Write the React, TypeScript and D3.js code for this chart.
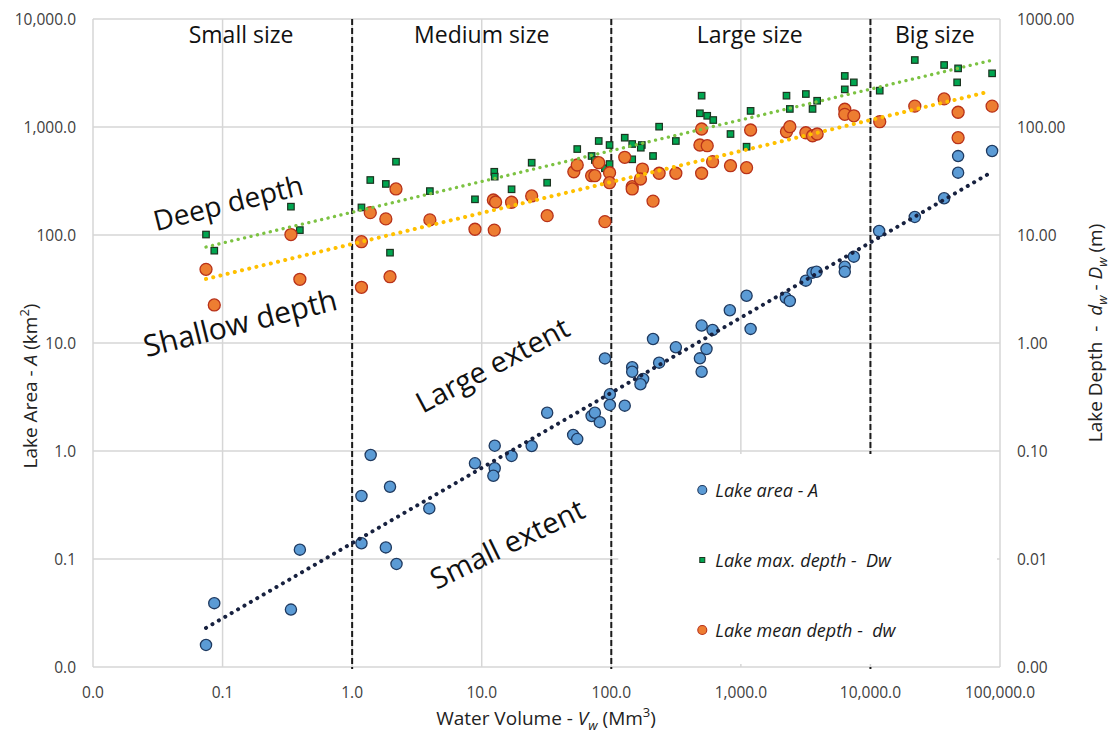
import React, { useRef, useEffect } from "react";
import * as d3 from "d3";

// axis ticks (x = water volume, left = lake area, right = lake depth)
const xTicks = [0.01, 0.1, 1, 10, 100, 1000, 10000, 100000];
const xTickLabels = ["0.0", "0.1", "1.0", "10.0", "100.0", "1,000.0", "10,000.0", "100,000.0"];
const areaTicks = [0.01, 0.1, 1, 10, 100, 1000, 10000];
const areaTickLabels = ["0.0", "0.1", "1.0", "10.0", "100.0", "1,000.0", "10,000.0"];
const depthTicks = [0.001, 0.01, 0.1, 1, 10, 100, 1000];
const depthTickLabels = ["0.00", "0.01", "0.10", "1.00", "10.00", "100.00", "1000.00"];

// size classes
const sizeLabels = ["Small size", "Medium size", "Large size", "Big size"];
const sizeLabelX = [0.139, 10.0, 1170, 31400];
const sizeBounds = [1, 100, 10000];

// [V, A]  lake area (km2)
const lakeArea = [
  [0.0745, 0.016], [0.0863, 0.039], [0.337, 0.034], [0.395, 0.122], [1.18, 0.383], [1.18, 0.14],
  [1.96, 0.467], [3.94, 0.294], [1.82, 0.128], [2.2, 0.09], [1.39, 0.918], [8.87, 0.769],
  [12.6, 1.12], [12.6, 0.692], [12.3, 0.59], [17.0, 0.9], [24.3, 1.11], [32, 2.26],
  [50.8, 1.41], [54.6, 1.29], [70.5, 2.11], [74.7, 2.26], [81.6, 1.85], [89.3, 7.2],
  [97.5, 3.35], [97.5, 2.67], [127, 2.63], [145, 5.96], [145, 5.42], [176, 4.64],
  [168, 4.15], [210, 10.9], [234, 6.58], [315, 9.12], [498, 14.5], [483, 7.21],
  [498, 5.42], [543, 8.8], [605, 13.2], [822, 20.1], [1107, 27.4], [1189, 13.5],
  [2223, 26.2], [2388, 24.5], [3174, 37.8], [3575, 44.8], [3838, 45.7], [6339, 50.8],
  [6339, 45.7], [7447, 63], [11670, 109], [22000, 147], [37050, 219], [47500, 378],
  [47500, 538], [86900, 600],
];

// [V, Dw]  lake max depth (m)
const lakeMaxDepth = [
  [0.0745, 10.1], [0.0863, 7.16], [0.337, 18.3], [0.395, 11.1], [1.18, 18.0], [1.38, 32.3],
  [1.96, 6.86], [2.18, 47.7], [1.82, 29.7], [3.98, 25.5], [8.87, 21.4], [12.5, 38.5],
  [12.6, 34.7], [17.0, 26.5], [24.3, 46.7], [32, 30.5], [54.6, 62.5], [70.5, 53.9],
  [74.7, 49.5], [80, 74.2], [89.3, 41.5], [97, 68.1], [97, 45.4], [127, 79.6],
  [145, 69.6], [145, 50.2], [172, 68.1], [169, 64.3], [210, 53.9], [234, 100.7],
  [315, 74.2], [498, 195], [483, 134], [550, 127], [612, 116], [832, 86.1],
  [1189, 141], [1107, 65.7], [2250, 195], [2388, 147], [3174, 202], [3575, 147],
  [3880, 175], [6339, 297], [6339, 223], [7447, 259], [11800, 217], [22000, 417],
  [37050, 375], [47500, 349], [46700, 259], [86900, 314],
];

// [V, dw]  lake mean depth (m)
const lakeMeanDepth = [
  [0.0745, 4.81], [0.0863, 2.25], [0.337, 10.1], [0.395, 3.89], [1.18, 8.67], [1.18, 3.28],
  [1.96, 4.11], [2.18, 26.7], [1.38, 16.1], [1.82, 14.1], [3.98, 13.8], [8.87, 11.3],
  [12.5, 11.1], [12.3, 21.1], [12.8, 20.2], [17.0, 20.1], [24.3, 23.0], [32, 15.1],
  [51.4, 38.5], [54.6, 44.5], [70.5, 35.4], [74.7, 35.4], [80, 46.7], [89.3, 13.3],
  [97, 37.7], [97, 30.5], [127, 52.4], [145, 28.0], [145, 26.7], [174, 40.8],
  [168, 33.0], [210, 20.6], [234, 37.3], [315, 37.3], [498, 95.8], [483, 68.1],
  [550, 67.1], [498, 37.3], [605, 47.7], [832, 43.8], [1107, 42.0], [1189, 93.8],
  [2250, 90.4], [2388, 100.7], [3174, 88.5], [3575, 83.0], [3880, 86.1], [6339, 146],
  [6339, 131], [7447, 127], [11800, 112], [22000, 156], [37050, 182], [47500, 137],
  [47500, 79.6], [86900, 156],
];

// power trend lines, end points
const areaTrend = [[0.0745, 0.023], [86500, 383]];
const maxTrend = [[0.0745, 7.74], [88000, 417]];
const meanTrend = [[0.0745, 3.92], [80500, 211]];

// rotated notes, [V, A] on the left axis
const notes = ["Deep depth", "Shallow depth", "Large extent", "Small extent"];
const notePos = [[0.110, 202], [0.136, 15.6], [12.0, 6.4], [15.6, 0.141]];
const noteAngle = [-14, -14, -28, -26];
const noteSize = [28, 30, 29, 29];

const legendLabels = ["Lake area - A", "Lake max. depth -  Dw", "Lake mean depth -  dw"];

const FONT = "'Open Sans', sans-serif";

const App = () => {
  const plot = useRef(null);
  const width = 1110;
  const height = 735;
  const left = 93, right = 1000, top = 19, bottom = 667;

  useEffect(() => {
    const svg = d3.select(plot.current);
    svg.selectAll("*").remove();

    const x = d3.scaleLog().domain([0.01, 100000]).range([left, right]);
    const yA = d3.scaleLog().domain([0.01, 10000]).range([bottom, top]);
    const yD = d3.scaleLog().domain([0.001, 1000]).range([bottom, top]);

    // grid
    const grid = svg.append("g").attr("stroke", "#d6d6d6").attr("stroke-width", 1.5);
    grid.selectAll(".vg").data(xTicks).join("line")
      .attr("x1", d => x(d)).attr("x2", d => x(d))
      .attr("y1", top).attr("y2", bottom);
    grid.selectAll(".hg").data(areaTicks).join("line")
      .attr("x1", left).attr("x2", right)
      .attr("y1", d => yA(d)).attr("y2", d => yA(d));

    // size class boundaries
    svg.append("g").selectAll("line").data(sizeBounds).join("line")
      .attr("x1", d => x(d)).attr("x2", d => x(d))
      .attr("y1", top).attr("y2", bottom + 2)
      .attr("stroke", "#1a1a1a").attr("stroke-width", 2)
      .attr("stroke-dasharray", "6 3");

    // legend box covers the lower right corner
    const lgX = x(100) + 7, lgY = yA(1) + 3;
    svg.append("rect")
      .attr("x", lgX).attr("y", lgY)
      .attr("width", right - 3 - lgX).attr("height", bottom - 3 - lgY)
      .attr("fill", "white");

    // size labels
    svg.append("g").selectAll("text").data(sizeLabels).join("text")
      .attr("x", (d, i) => x(sizeLabelX[i]))
      .attr("y", 43)
      .attr("text-anchor", "middle")
      .attr("font-family", FONT).attr("font-size", 23)
      .attr("fill", "#111")
      .text(d => d);

    // rotated notes
    svg.append("g").selectAll("text").data(notes).join("text")
      .attr("transform", (d, i) =>
        `translate(${x(notePos[i][0])},${yA(notePos[i][1])}) rotate(${noteAngle[i]})`)
      .attr("text-anchor", "middle")
      .attr("dominant-baseline", "central")
      .attr("font-family", FONT).attr("font-size", (d, i) => noteSize[i])
      .attr("fill", "#111")
      .text(d => d);

    // points
    svg.append("g").selectAll("circle").data(lakeArea).join("circle")
      .attr("cx", d => x(d[0])).attr("cy", d => yA(d[1])).attr("r", 5.6)
      .attr("fill", "#5b9bd5").attr("stroke", "#1f3a60").attr("stroke-width", 1.3);

    const sq = 6.5;
    svg.append("g").selectAll("rect").data(lakeMaxDepth).join("rect")
      .attr("x", d => x(d[0]) - sq / 2).attr("y", d => yD(d[1]) - sq / 2)
      .attr("width", sq).attr("height", sq)
      .attr("fill", "#00a650").attr("stroke", "#1c3420").attr("stroke-width", 1.2);

    svg.append("g").selectAll("circle").data(lakeMeanDepth).join("circle")
      .attr("cx", d => x(d[0])).attr("cy", d => yD(d[1])).attr("r", 6)
      .attr("fill", "#ed7d31").attr("stroke", "#b8321a").attr("stroke-width", 1.3);

    // trend lines
    const lineA = d3.line().x(d => x(d[0])).y(d => yA(d[1]));
    const lineD = d3.line().x(d => x(d[0])).y(d => yD(d[1]));
    svg.append("path").attr("d", lineA(areaTrend))
      .attr("fill", "none").attr("stroke", "#17213f").attr("stroke-width", 4)
      .attr("stroke-linecap", "round").attr("stroke-dasharray", "0.1 7.3");
    svg.append("path").attr("d", lineD(meanTrend))
      .attr("fill", "none").attr("stroke", "#ffc000").attr("stroke-width", 4)
      .attr("stroke-linecap", "round").attr("stroke-dasharray", "0.1 7.3");
    svg.append("path").attr("d", lineD(maxTrend))
      .attr("fill", "none").attr("stroke", "#7cc242").attr("stroke-width", 3.3)
      .attr("stroke-linecap", "round").attr("stroke-dasharray", "0.1 6.5");

    // legend
    const lg = svg.append("g");
    legendLabels.forEach((t, i) => {
      const cy = lgY + 36 + i * 70;
      const cx = lgX + 84;
      if (i === 1) {
        lg.append("rect").attr("x", cx - 2.5).attr("y", cy - 2.5).attr("width", 5).attr("height", 5)
          .attr("fill", "#00a650").attr("stroke", "#1c3420").attr("stroke-width", 1);
      } else {
        lg.append("circle").attr("cx", cx).attr("cy", cy).attr("r", 4.5)
          .attr("fill", i === 0 ? "#5b9bd5" : "#ed7d31")
          .attr("stroke", i === 0 ? "#1f3a60" : "#b8321a").attr("stroke-width", 1.1);
      }
      lg.append("text").attr("x", cx + 13).attr("y", cy)
        .attr("dominant-baseline", "central")
        .attr("font-family", FONT).attr("font-style", "italic").attr("font-size", 18)
        .attr("fill", "#1a1a1a")
        .attr("xml:space", "preserve")
        .text(t);
    });

    // tick labels
    const tickStyle = (s) => s.attr("font-family", FONT).attr("font-size", 15.5).attr("fill", "#404040");
    svg.append("g").selectAll("text").data(xTicks).join("text")
      .attr("x", d => x(d)).attr("y", 692)
      .attr("text-anchor", "middle").attr("dominant-baseline", "central")
      .text((d, i) => xTickLabels[i]).call(tickStyle);
    svg.append("g").selectAll("text").data(areaTicks).join("text")
      .attr("x", 76).attr("y", d => yA(d))
      .attr("text-anchor", "end").attr("dominant-baseline", "central")
      .text((d, i) => areaTickLabels[i]).call(tickStyle);
    svg.append("g").selectAll("text").data(depthTicks).join("text")
      .attr("x", 1017).attr("y", d => yD(d))
      .attr("text-anchor", "start").attr("dominant-baseline", "central")
      .text((d, i) => depthTickLabels[i]).call(tickStyle);

    // axis titles
    const title = (g, parts) => {
      parts.forEach(p => {
        const ts = g.append("tspan").text(p.t);
        if (p.i) ts.attr("font-style", "italic");
        if (p.sup) ts.attr("font-size", 13).attr("dy", -8);
        if (p.sub) ts.attr("font-size", 13).attr("dy", 5);
        if (p.back) ts.attr("dy", p.back);
      });
    };
    const xt = svg.append("text")
      .attr("x", 546).attr("y", 725).attr("text-anchor", "middle")
      .attr("font-family", FONT).attr("font-size", 19).attr("fill", "#222")
      .attr("xml:space", "preserve");
    title(xt, [{ t: "Water Volume - " }, { t: "V", i: true }, { t: "w", i: true, sub: true },
      { t: " (Mm", back: -5 }, { t: "3", sup: true }, { t: ")", back: 8 }]);

    const lt = svg.append("text")
      .attr("transform", "translate(37,386) rotate(-90)").attr("text-anchor", "middle")
      .attr("font-family", FONT).attr("font-size", 19).attr("fill", "#222")
      .attr("xml:space", "preserve");
    title(lt, [{ t: "Lake Area - " }, { t: "A", i: true }, { t: " (km" }, { t: "2", sup: true }, { t: ")", back: 8 }]);

    const rt = svg.append("text")
      .attr("transform", "translate(1102,333) rotate(-90)").attr("text-anchor", "middle")
      .attr("font-family", FONT).attr("font-size", 19).attr("fill", "#222")
      .attr("xml:space", "preserve");
    title(rt, [{ t: "Lake Depth  -  " }, { t: "d", i: true }, { t: "w", i: true, sub: true },
      { t: " - ", back: -5 }, { t: "D", i: true }, { t: "w", i: true, sub: true }, { t: " (m)", back: -5 }]);
  });

  return (
    <svg ref={plot} width={width} height={height}
      style={{ position: "absolute", left: 0, top: 0, background: "white" }} />
  );
};

export default App;
